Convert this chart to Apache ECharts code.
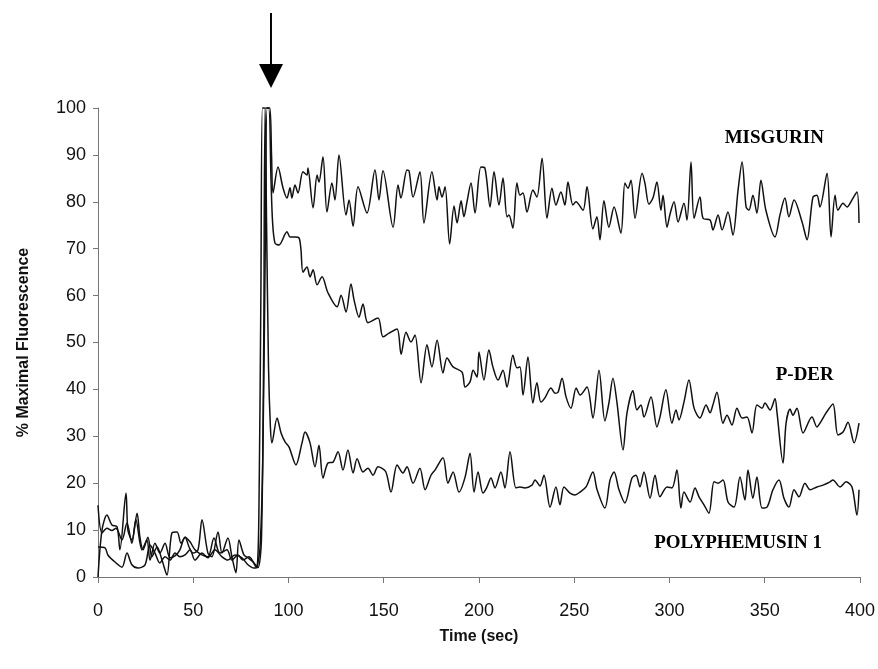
<!DOCTYPE html>
<html>
<head>
<meta charset="utf-8">
<script src="https://cdn.jsdelivr.net/npm/echarts@6/dist/echarts.min.js"></script>
<style>html,body{margin:0;padding:0;background:#fff;}#c{width:878px;height:669px;}</style>
</head>
<body>
<div id="c"></div>
<script>
// [time (sec), % maximal fluorescence]
const misgurin = [[0,0],[2.1,10],[4.7,13.2],[7.3,11.1],[10,10.7],[11.5,5.8],[14.7,17.9],[15.7,10],[17.8,7.9],[20.5,13.6],[22,8.5],[23.6,5.8],[26.2,8.5],[28.3,4.3],[31,6.4],[33.6,3.6],[36.2,0.4],[38.8,9.4],[41.5,9.6],[43.6,7.2],[45.7,8.5],[47.8,6.4],[49.9,5.1],[52.5,5.8],[54.6,12.2],[57.7,5.1],[59.8,4.3],[63,9.6],[65.1,5.1],[68.2,8.3],[70.3,4.3],[72.4,0.9],[74,7.9],[76.6,4.7],[78.7,4.1],[81.4,3.2],[83,2.1],[85,6],[86.5,25],[87.8,70],[88.8,100],[90.2,100],[91.1,90],[91.9,81.9],[94.5,87.4],[97.1,83],[99.2,80.8],[100.8,83],[101.8,80.8],[103.4,83.6],[105,81.9],[107.6,86.4],[109.7,85.7],[110.2,87.2],[112.9,78.7],[115,85.7],[116,84.2],[118.1,89.6],[120.2,77.8],[122.8,84],[124.4,80.4],[126.5,90],[130.2,77.2],[131.8,80.4],[133.9,74.8],[136.5,83.2],[141.2,77.6],[145.4,86.8],[147.5,80.4],[149.6,86.6],[154.9,74.6],[157.5,83.6],[159,80.8],[162.2,86.8],[163.3,86.6],[165.4,81],[169,86.4],[171.1,75.5],[175.3,86.4],[178,80.4],[179,83.2],[180.6,81],[182.2,83.2],[184.6,71],[186.9,79.1],[188.5,75.5],[190.6,80.2],[192.1,76.8],[193.7,80],[195.8,84],[197.9,77.6],[201,87.4],[203.1,87.2],[205.8,78.9],[207.9,86.4],[210.5,79.3],[212.6,85.1],[214.7,76.8],[215.7,77.2],[217.8,74.4],[219.9,84],[221.5,81.4],[223.1,81.9],[225.2,77.8],[228.3,82.5],[230.4,81],[233.1,89.3],[235.7,76.5],[238.3,82.9],[240.4,79.3],[243,82.1],[245.1,79.3],[246.7,84.2],[249.3,79.3],[250.9,80],[254.6,78.2],[256.7,83.2],[259.8,74.2],[261.9,76.8],[263.5,71.9],[265.6,80.2],[268.2,74.6],[270.9,78.9],[274.5,73.3],[276.6,84],[278.2,82.9],[279.8,84.6],[281.9,76.5],[285.6,86.1],[287.1,84],[289.2,79.5],[291.3,80.8],[293.4,84.2],[295.5,78.2],[296.6,81.4],[298.7,74.6],[300.3,77.4],[302.4,80],[304.5,75.7],[307.6,79.7],[309.2,76.1],[311.3,88.5],[312.9,76.5],[316,81],[317.6,76.5],[321.3,76.1],[322.8,74],[325.5,77.2],[327.6,74],[330.7,77.8],[333.3,72.9],[336,82.5],[338.1,88.5],[340.2,78.9],[341.7,78.2],[343.8,81.4],[345.9,77.6],[348,84.6],[350.6,78.2],[355.4,72.5],[358,77.2],[360.6,80.8],[362.7,76.8],[365.4,80.4],[369.6,75.7],[372.2,71.9],[375.3,81],[377.4,81.4],[379,78.9],[382.7,86.1],[384.8,72.5],[386.9,81.4],[388.4,78.2],[391.1,79.7],[393.2,78.9],[395.8,80.4],[398.4,82.1],[399.5,75.5]];

const pder = [[0,15.3],[2.1,9.4],[4.7,10.4],[7.3,9.9],[9.4,10.4],[12.6,7.9],[15.2,11.5],[17.8,7.2],[19.9,12.2],[23.1,5.8],[25.7,7.9],[27.3,3.6],[29.9,7.2],[32.5,5.1],[35.2,7.2],[37.8,4.1],[40.4,4.5],[43,5.8],[45.7,8.5],[48.3,7.5],[50.9,5.8],[54.6,4.7],[57.7,4.3],[60.9,8.3],[64,5.1],[67.7,5.8],[70.3,3.6],[73.5,4.7],[76.1,3.6],[79.2,4.3],[81.9,3],[84,2],[85.8,8],[87,50],[87.9,100],[89.6,100],[90.8,85],[91.6,76],[92.9,71.2],[95,70.8],[99.2,73.6],[100.8,72.5],[103.4,72.5],[105.5,72.3],[106.5,70],[107.6,65],[109.7,66.1],[111.3,64],[112.9,65.5],[115,62.3],[117.6,64],[120.7,60.6],[125.5,57.6],[127.6,60.1],[130.2,56.5],[132.8,62.5],[134.4,59.1],[137,55.4],[139.1,58.2],[141.7,54.2],[147,55.2],[149.6,51.2],[152.8,52],[157,52.9],[159.1,47.5],[161.7,52.2],[164.3,50.1],[166.4,51.6],[169.6,41.4],[172.7,49.5],[175.3,44.8],[178,50.5],[181.1,43.5],[183.2,46.7],[186.4,44.8],[191.1,43.7],[192.7,40.5],[195.3,41.6],[196.9,44.1],[199,42.6],[200,48],[202.6,42],[205.2,48.4],[207.3,44.8],[210,42],[212.6,44.1],[214.7,40.5],[217.8,47.3],[219.9,44.6],[221.5,44.8],[223.1,38.8],[225.7,46.9],[228.3,37.1],[230.4,41.4],[232.5,37.3],[234.6,38.2],[237.8,40.3],[239.9,39.2],[241.5,39.4],[243.6,42.4],[245.7,38.4],[248.3,36],[251,40.3],[253.1,38.8],[256.7,40.5],[259.8,33.9],[263,44.1],[266.1,33.3],[268.2,37.1],[270.3,42.4],[272.4,37.3],[275.6,27.1],[277.7,35],[280.8,39.7],[282.9,35.6],[285,36.7],[286.6,34.1],[290.3,38.4],[293.4,32],[295,34.1],[298.1,39.9],[301.3,32.8],[303.4,35.6],[305,33.5],[307.6,37.3],[310.2,42],[312.9,36],[316,33.9],[319.2,36.7],[321.3,35],[322.8,36.7],[324.9,39.4],[328.1,32.8],[330.2,34.5],[332.8,32.4],[335.4,36],[338.1,33.9],[340.7,34.1],[343.3,30.7],[345.9,36.7],[348.6,36],[350.1,37.1],[352.8,35.6],[355.4,38],[356.4,35.2],[359.6,24.3],[361.2,32.8],[363.3,35.8],[364.8,34.5],[366.9,36],[370.1,30.7],[374.8,34.1],[377.4,32],[379,32.8],[382.2,35],[385.8,36.9],[388.4,30.3],[391.1,30.9],[393.7,33],[396.9,28.6],[399.5,32.8]];

const polyphemusin = [[0,6.4],[3.7,6.2],[5.2,4.7],[8.9,3.2],[12.6,2.1],[15.2,5.1],[17.8,2.6],[21,1.9],[24.7,2.6],[27.3,6.8],[29.9,5.1],[32.5,3],[35.2,4.3],[37.8,3.6],[40.4,5.1],[43,4.3],[45.7,4.7],[48.3,5.8],[50.9,3.6],[54.6,5.1],[57.7,4.1],[61.4,5.8],[65.1,4.3],[68.2,3.6],[71.9,4.7],[75.6,4.1],[78.7,2.6],[81.9,1.9],[83.5,2],[84.5,15],[85.5,60],[86.3,100],[87.5,100],[88.5,75],[89.5,45],[90.5,32],[91.3,28.6],[94,33.9],[96.1,30.7],[98.2,28.8],[100.3,27.7],[103.9,23.9],[107.1,28.6],[108.7,30.9],[111.3,28.6],[113.9,23.5],[116,28.1],[118.1,21.1],[120.7,24.3],[123.4,24.5],[126,26.7],[128.6,22.8],[131.2,27.1],[133.9,22.2],[136,25.2],[139.1,22.4],[141.7,23.2],[144.4,21.7],[147,23.5],[151,22.5],[153.8,18.1],[157,23.9],[160.1,22.2],[162.2,23.5],[165.4,20],[169,23.2],[171.7,18.6],[174.8,21.7],[176.9,22.8],[181.1,25.4],[183.7,20],[186.4,22.4],[189.5,18.1],[192.7,21.3],[195.3,26.4],[197.4,18.1],[199.5,22.4],[202.1,17.9],[204,19],[206.3,21.1],[208.4,19],[211.5,22.4],[213.6,19],[216.3,26.7],[219.4,19],[221.5,19.2],[224.1,19],[227.8,19.6],[229.4,20.7],[232,19.4],[234.1,21.7],[237.3,14.9],[240.4,19.2],[242.5,15.4],[244.6,19.2],[247.8,17.9],[250.4,17.5],[253,18.1],[256.2,19.2],[259.8,22.4],[262,18.6],[266.1,14.7],[268.8,20.7],[270.9,22.4],[273.5,18.6],[276.6,15.8],[280.3,21.1],[282.4,21.7],[284.5,19.2],[286.6,22.4],[289.8,16.8],[292.4,21.7],[295,17.1],[298.7,19.2],[301.3,19],[303.9,22.8],[306,14.7],[307.6,18.1],[310.8,16],[313.4,19],[315.5,17.1],[318.1,15.4],[320.7,13.6],[323.4,20.3],[325.5,20],[328.1,20.7],[330.7,16],[333.9,14.9],[337,21.3],[339.6,16.4],[341.2,22.8],[343.8,16.8],[345.9,21.3],[348.6,14.7],[351.2,14.9],[354.3,18.6],[357.5,20.7],[360.1,16.8],[362.7,14.9],[365.4,18.6],[368,17.1],[371.1,20],[373.8,18.6],[377.4,19.2],[380.6,19.6],[384.3,20.3],[385.8,20.7],[389.5,19.2],[392.7,20.3],[395.8,19.2],[398.4,13.2],[399.5,18.6]];

const xTicks = {min: 0, max: 400, interval: 50};
const yTicks = {min: 0, max: 100, interval: 10};
const seriesLabels = [
  {text: 'MISGURIN', t: 355, v: 93.5},
  {text: 'P-DER', t: 371, v: 43},
  {text: 'POLYPHEMUSIN 1', t: 336, v: 7.2}
];
const stimulusTime = 90.8;

const chart = echarts.init(document.getElementById('c'), null, {renderer: 'canvas'});
const axisLineStyle = {color: '#777', width: 1};
const lineStyle = {color: '#111', width: 1.5};
function mk(name, data) {
  return {name, type: 'line', data, showSymbol: false, symbol: 'none', smooth: 0.3,
          lineStyle, animation: false, clip: false};
}
chart.setOption({
  animation: false,
  grid: {left: 98, right: 18, top: 108, bottom: 92},
  xAxis: {
    type: 'value', min: xTicks.min, max: xTicks.max, interval: xTicks.interval,
    axisLine: {lineStyle: axisLineStyle}, axisTick: {show: true, length: 6, lineStyle: axisLineStyle},
    splitLine: {show: false},
    axisLabel: {color: '#111', fontSize: 18, fontFamily: 'Liberation Sans, Arial', margin: 25},
    name: 'Time (sec)', nameLocation: 'middle', nameGap: 52,
    nameTextStyle: {color: '#111', fontSize: 16, fontWeight: 'bold', fontFamily: 'Liberation Sans, Arial'}
  },
  yAxis: {
    type: 'value', min: yTicks.min, max: yTicks.max, interval: yTicks.interval,
    axisLine: {show: true, lineStyle: axisLineStyle}, axisTick: {show: true, length: 5, lineStyle: axisLineStyle},
    splitLine: {show: false},
    axisLabel: {color: '#111', fontSize: 18, fontFamily: 'Liberation Sans, Arial', margin: 12},
    name: '% Maximal Fluorescence', nameLocation: 'middle', nameGap: 66,
    nameTextStyle: {color: '#111', fontSize: 16, fontWeight: 'bold', fontFamily: 'Liberation Sans, Arial'}
  },
  series: [mk('MISGURIN', misgurin), mk('P-DER', pder), mk('POLYPHEMUSIN 1', polyphemusin)]
});

const ax = chart.convertToPixel({xAxisIndex: 0}, stimulusTime);
const graphics = [
  {type: 'line', shape: {x1: ax, y1: 13, x2: ax, y2: 66}, style: {stroke: '#000', lineWidth: 2}},
  {type: 'polygon', shape: {points: [[ax - 12, 64], [ax + 12, 64], [ax, 88]]}, style: {fill: '#000'}}
];
seriesLabels.forEach(l => {
  const p = chart.convertToPixel({gridIndex: 0}, [l.t, l.v]);
  graphics.push({type: 'text', x: p[0], y: p[1],
    style: {text: l.text, fill: '#000', font: 'bold 19px "Liberation Serif", "Times New Roman", serif',
            align: 'center', verticalAlign: 'middle'}});
});
chart.setOption({graphic: graphics});
</script>
</body>
</html>
